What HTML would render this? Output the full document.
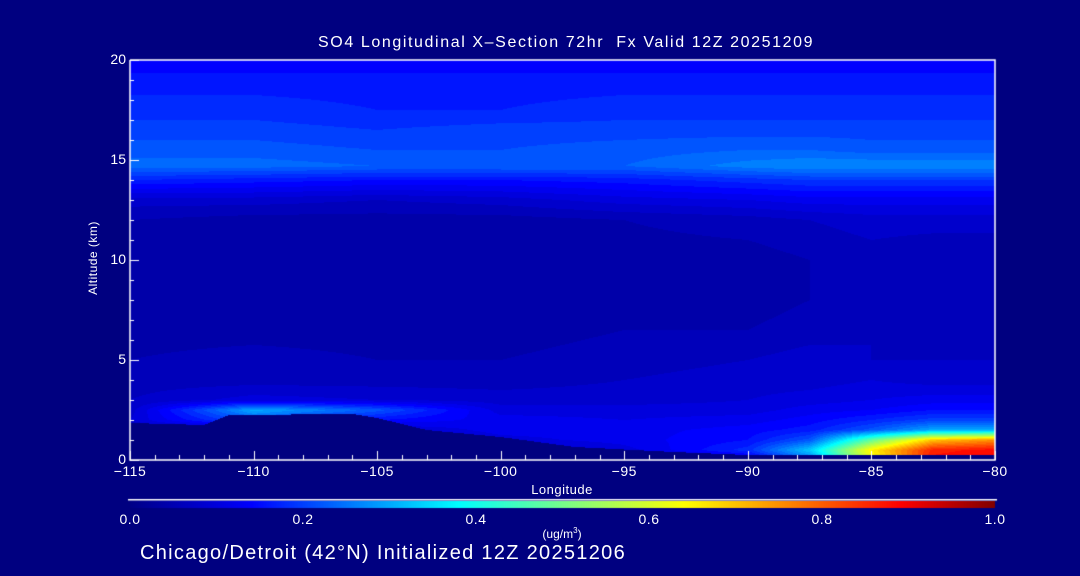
<!DOCTYPE html>
<html><head><meta charset="utf-8">
<style>
html,body{margin:0;padding:0;background:#000080;}
#wrap{position:relative;width:1080px;height:576px;background:#000080;overflow:hidden;font-family:"Liberation Sans",sans-serif;color:#fff;}
canvas{position:absolute;left:0;top:0;}
.t{position:absolute;white-space:nowrap;color:#fff;}
</style></head><body>
<div id="wrap">
<canvas id="cv" width="1080" height="576"></canvas>
<div class="t" style="left:318px;width:492px;text-align:center;top:34px;font-size:16px;letter-spacing:1.6px;">SO4 Longitudinal X&#8211;Section 72hr&nbsp; Fx Valid 12Z 20251209</div>
<div class="t" style="left:93px;top:258px;font-size:12px;letter-spacing:0.5px;transform:translate(-50%,-50%) rotate(-90deg);">Altitude (km)</div>
<div class="t" style="left:562px;top:482px;font-size:13px;letter-spacing:0.5px;transform:translateX(-50%);">Longitude</div>
<div class="t" style="left:562px;top:526px;font-size:12px;transform:translateX(-50%);">(ug/m<sup style="font-size:8px">3</sup>)</div>
<div class="t" style="left:140px;top:542px;font-size:20px;letter-spacing:1.3px;">Chicago/Detroit (42°N) Initialized 12Z 20251206</div>
<div id="labels"></div>
</div>
<script>
const lons=[-115,-110,-105,-100,-95,-90,-87.5,-85,-82.5,-80];
const alts=[0,0.5,1,1.5,2,2.5,3,4,5,6.5,8,10,12,13,14,14.7,15.5,16.5,17.5,19,20];
const so4=[
[0.03,0.03,0.03,0.03,0.05,0.10,0.25,0.62,0.88,0.90],
[0.03,0.03,0.03,0.05,0.10,0.18,0.33,0.65,0.86,0.88],
[0.04,0.04,0.05,0.10,0.12,0.15,0.22,0.48,0.70,0.75],
[0.06,0.06,0.08,0.12,0.12,0.14,0.16,0.22,0.30,0.30],
[0.09,0.22,0.15,0.12,0.11,0.12,0.14,0.17,0.20,0.20],
[0.08,0.30,0.22,0.10,0.10,0.10,0.12,0.13,0.15,0.15],
[0.07,0.10,0.09,0.08,0.08,0.09,0.10,0.11,0.12,0.12],
[0.06,0.06,0.06,0.06,0.07,0.08,0.08,0.09,0.08,0.08],
[0.05,0.06,0.05,0.05,0.06,0.07,0.08,0.07,0.07,0.07],
[0.04,0.04,0.04,0.04,0.05,0.05,0.06,0.07,0.06,0.06],
[0.04,0.04,0.04,0.04,0.04,0.04,0.05,0.06,0.07,0.07],
[0.04,0.04,0.04,0.04,0.04,0.04,0.05,0.06,0.05,0.05],
[0.05,0.04,0.04,0.04,0.05,0.06,0.07,0.08,0.08,0.08],
[0.08,0.08,0.07,0.08,0.10,0.11,0.12,0.12,0.12,0.12],
[0.17,0.16,0.15,0.15,0.16,0.18,0.19,0.19,0.19,0.19],
[0.24,0.24,0.23,0.23,0.23,0.26,0.27,0.27,0.27,0.27],
[0.22,0.22,0.21,0.21,0.22,0.23,0.23,0.22,0.22,0.22],
[0.20,0.20,0.19,0.20,0.20,0.20,0.20,0.20,0.20,0.20],
[0.18,0.18,0.17,0.17,0.18,0.18,0.18,0.18,0.18,0.18],
[0.16,0.16,0.16,0.16,0.16,0.16,0.16,0.16,0.16,0.16],
[0.13,0.13,0.13,0.13,0.13,0.13,0.13,0.13,0.13,0.13]];
const terrainLon=[-115,-112,-111,-106,-105,-103,-100,-97,-93,-90,-80];
const terrainH=[1.85,1.75,2.25,2.3,2.1,1.5,1.15,0.65,0.4,0.25,0.25];
const xTicks=[-115,-110,-105,-100,-95,-90,-85,-80];
const yTicks=[0,5,10,15,20];
const cbTicks=[0.0,0.2,0.4,0.6,0.8,1.0];

const X0=130,X1=995,Y0=460,Y1=60;
const xs=l=>X0+(l+115)/35*(X1-X0);
const ys=h=>Y0-h/20*(Y0-Y1);
const stops=[[0,[0,0,135]],[0.14,[0,0,255]],[0.38,[0,255,255]],[0.51,[128,255,128]],[0.64,[255,255,0]],[0.89,[255,0,0]],[1,[128,0,0]]];
function cmap(v){v=Math.max(0,Math.min(1,v));
 for(let i=1;i<stops.length;i++){if(v<=stops[i][0]){const a=stops[i-1],b=stops[i],t=(v-a[0])/(b[0]-a[0]);return a[1].map((c,k)=>Math.round(c+(b[1][k]-c)*t));}}
 return stops[stops.length-1][1];}
function seg(arr,v){let i=0;while(i<arr.length-2&&v>arr[i+1])i++;const t=(v-arr[i])/(arr[i+1]-arr[i]);return [i,Math.max(0,Math.min(1,t))];}
function field(lon,h){const [i,tx]=seg(lons,lon),[j,ty]=seg(alts,h);
 const a=so4[j][i],b=so4[j][i+1],c=so4[j+1][i],d=so4[j+1][i+1];
 return (a*(1-tx)+b*tx)*(1-ty)+(c*(1-tx)+d*tx)*ty;}
function terr(lon){const [i,t]=seg(terrainLon,lon);return terrainH[i]+(terrainH[i+1]-terrainH[i])*t;}

const cv=document.getElementById('cv'),ctx=cv.getContext('2d');
ctx.fillStyle='#000080';ctx.fillRect(0,0,1080,576);
const W=X1-X0,H=Y0-Y1,img=ctx.createImageData(W,H);
for(let px=0;px<W;px++){const lon=-115+(px+0.5)/W*35,th=terr(lon);
 for(let py=0;py<H;py++){const h=(Y0-(Y1+py+0.5))/(Y0-Y1)*20;let c;
  if(h<th)c=[0,0,128];else{let v=field(lon,h);v=Math.round(v/0.02)*0.02;c=cmap(v);}
  const k=(py*W+px)*4;img.data[k]=c[0];img.data[k+1]=c[1];img.data[k+2]=c[2];img.data[k+3]=255;}}
ctx.putImageData(img,X0,Y1);
for(let px=0;px<W;px++){const c=cmap(px/W);ctx.fillStyle=`rgb(${c})`;ctx.fillRect(X0+px,501,1,7);}
ctx.fillStyle='#fff';ctx.fillRect(X0-2,499,W+4,1.5);
ctx.strokeStyle='#fff';ctx.lineWidth=1.5;
ctx.beginPath();ctx.moveTo(X0,Y1);ctx.lineTo(X1,Y1);ctx.lineTo(X1,Y0);ctx.lineTo(X0,Y0);ctx.lineTo(X0,Y1);ctx.stroke();
ctx.lineWidth=1;
for(let l=-115;l<=-80;l++){const x=Math.round(xs(l))+0.5,len=(l%5===0)?9:5;ctx.beginPath();ctx.moveTo(x,Y0);ctx.lineTo(x,Y0-len);ctx.stroke();}
for(let h=0;h<=20;h++){const y=Math.round(ys(h))+0.5,len=(h%5===0)?9:4;ctx.beginPath();ctx.moveTo(X0,y);ctx.lineTo(X0+len,y);ctx.stroke();}
const lab=document.getElementById('labels');
xTicks.forEach(l=>{const d=document.createElement('div');d.className='t';


d.style.cssText=`left:${xs(l)}px;top:463px;font-size:14px;letter-spacing:0.5px;transform:translateX(-50%);`;d.textContent=(l<0?'\u2212'+(-l):l);lab.appendChild(d);});
yTicks.forEach(h=>{const d=document.createElement('div');d.className='t';


d.style.cssText=`right:${1080-126}px;top:${ys(h)-9}px;font-size:14px;`;d.textContent=h;lab.appendChild(d);});
cbTicks.forEach(v=>{const d=document.createElement('div');d.className='t';


d.style.cssText=`left:${X0+v*W}px;top:511px;font-size:14px;letter-spacing:0.5px;transform:translateX(-50%);`;d.textContent=v.toFixed(1);lab.appendChild(d);});
</script>
</body></html>
